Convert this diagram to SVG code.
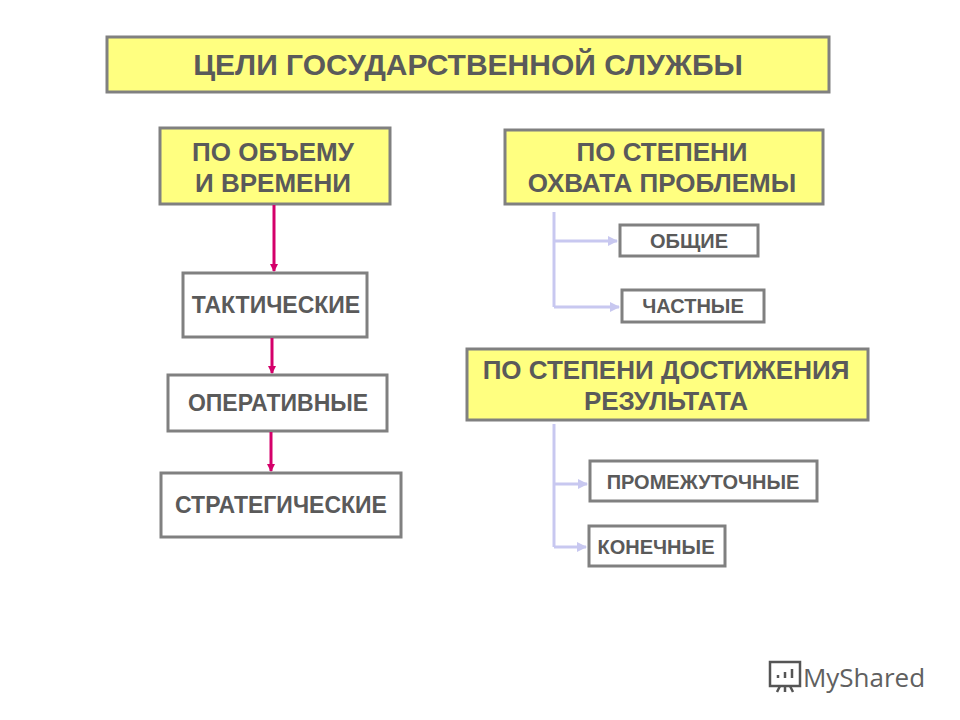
<svg xmlns="http://www.w3.org/2000/svg" width="960" height="720" viewBox="0 0 960 720">
<style>
.y{fill:#ffff80;stroke:#808080;stroke-width:3}
.w{fill:#fff;stroke:#808080;stroke-width:3}
text{font-family:"Liberation Sans",Arial,sans-serif;font-weight:bold;fill:#5a5a5a;text-anchor:middle}
.t{font-size:30px}.b{font-size:26px}.m{font-size:23px}.s{font-size:20px}
.r{stroke:#d4006a;stroke-width:3;fill:none}
.l{stroke:#c8c8f0;stroke-width:3;fill:none}
</style>
<defs>
<marker id="ar" markerWidth="8" markerHeight="8" refX="7" refY="4" orient="auto" markerUnits="userSpaceOnUse"><path d="M0,0L8,4L0,8z" fill="#d4006a"/></marker>
<marker id="al" markerWidth="10" markerHeight="10" refX="9" refY="5" orient="auto" markerUnits="userSpaceOnUse"><path d="M0,0L10,5L0,10z" fill="#c8c8f0"/></marker>
</defs>
<rect width="960" height="720" fill="#fff"/>
<g id="title"><rect class="y" x="107" y="37" width="722" height="55"/><text class="t" x="468" y="75">ЦЕЛИ ГОСУДАРСТВЕННОЙ СЛУЖБЫ</text></g>
<g id="n1"><rect class="y" x="160" y="128" width="230" height="76"/><text class="b" x="273" y="161">ПО ОБЪЕМУ</text><text class="b" x="273" y="192">И ВРЕМЕНИ</text></g>
<g id="n2"><rect class="y" x="505" y="130" width="318" height="74"/><text class="b" x="662" y="161">ПО СТЕПЕНИ</text><text class="b" x="662" y="192">ОХВАТА ПРОБЛЕМЫ</text></g>
<g id="n3"><rect class="w" x="183" y="273" width="184" height="64"/><text class="m" x="276" y="313">ТАКТИЧЕСКИЕ</text></g>
<g id="n4"><rect class="w" x="168" y="375" width="219" height="56"/><text class="m" x="278" y="411">ОПЕРАТИВНЫЕ</text></g>
<g id="n5"><rect class="w" x="161" y="473" width="240" height="64"/><text class="m" x="281" y="513">СТРАТЕГИЧЕСКИЕ</text></g>
<g id="n6"><rect class="w" x="620" y="225" width="138" height="31"/><text class="s" x="689" y="248">ОБЩИЕ</text></g>
<g id="n7"><rect class="w" x="622" y="290" width="142" height="32"/><text class="s" x="693" y="313">ЧАСТНЫЕ</text></g>
<g id="n8"><rect class="y" x="467" y="349" width="401" height="71"/><text class="b" x="666" y="379">ПО СТЕПЕНИ ДОСТИЖЕНИЯ</text><text class="b" x="666" y="410">РЕЗУЛЬТАТА</text></g>
<g id="n9"><rect class="w" x="590" y="461" width="227" height="40"/><text class="s" x="703" y="489">ПРОМЕЖУТОЧНЫЕ</text></g>
<g id="n10"><rect class="w" x="589" y="526" width="136" height="40"/><text class="s" x="656" y="554">КОНЕЧНЫЕ</text></g>
<g id="connectors">
<path class="r" d="M274,205V271" marker-end="url(#ar)"/>
<path class="r" d="M272,338V373" marker-end="url(#ar)"/>
<path class="r" d="M271,432V471" marker-end="url(#ar)"/>
<path class="l" d="M554,212V307"/>
<path class="l" d="M554,241H617" marker-end="url(#al)"/>
<path class="l" d="M554,307H619" marker-end="url(#al)"/>
<path class="l" d="M554,424V547"/>
<path class="l" d="M554,484H587" marker-end="url(#al)"/>
<path class="l" d="M554,547H586" marker-end="url(#al)"/>
</g>
<g id="logo">
<rect x="770" y="662" width="30" height="24" fill="none" stroke="#555" stroke-width="2.5"/>
<path d="M778,678v-3M785,678v-6M792,678v-9M780,686l-3,6M785,686v6M790,686l3,6" stroke="#555" stroke-width="2.5"/>
<text x="864" y="687" style="font-family:'Open Sans',sans-serif;font-weight:normal;font-size:26px;fill:#606060">MyShared</text>
</g>
</svg>
